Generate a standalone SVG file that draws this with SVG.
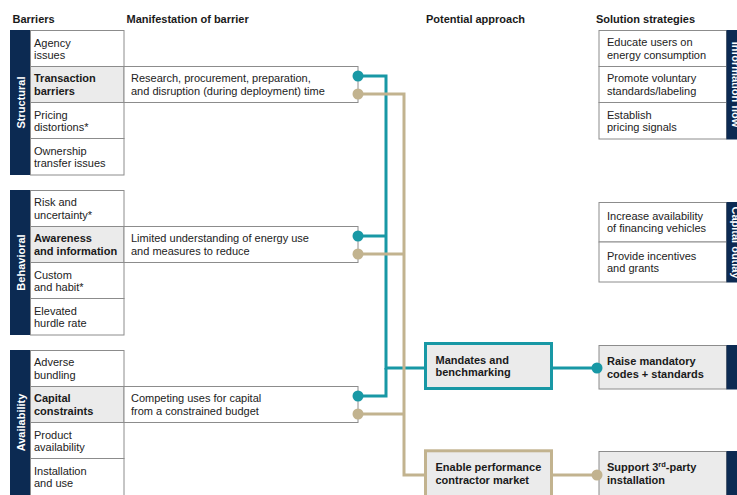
<svg xmlns="http://www.w3.org/2000/svg" width="737" height="495" viewBox="0 0 737 495">
<style>
text{font-family:"Liberation Sans",Arial,sans-serif;font-size:11px;fill:#222}
.h{font-weight:bold;fill:#1a1a1a}
.b{font-weight:bold;fill:#1a1a1a}
.band{fill:#0c2a52}
.bl{font-weight:bold;fill:#fff}
.cell{fill:#fff;stroke:#8c8c8c;stroke-width:1}
.cellg{fill:#ebebeb;stroke:#8c8c8c;stroke-width:1}
.teal{stroke:#1898a5;fill:none;stroke-width:3}
.tan{stroke:#c2b38f;fill:none;stroke-width:3}
.dt{fill:#1898a5}
.dn{fill:#c2b38f}
</style>
<rect width="737" height="495" fill="#fff"/>
<g id="headers">
<text class="h" x="12.5" y="23">Barriers</text>
<text class="h" x="126.5" y="23">Manifestation of barrier</text>
<text class="h" x="426" y="23">Potential approach</text>
<text class="h" x="596" y="23">Solution strategies</text>
</g>
<g id="structural">
<rect class="band" x="10" y="30" width="20" height="145"/>
<text class="bl" transform="translate(20.5,102.5) rotate(-90)" text-anchor="middle" dominant-baseline="central">Structural</text>
<rect class="cell" x="30.5" y="30.5" width="93.5" height="36"/>
<text x="34" y="46.5">Agency</text><text x="34" y="59">issues</text>
<rect class="cellg" x="30.5" y="66.5" width="93.5" height="36"/>
<text class="b" x="34" y="82">Transaction</text><text class="b" x="34" y="94.5">barriers</text>
<rect class="cell" x="30.5" y="102.5" width="93.5" height="36"/>
<text x="34" y="118.5">Pricing</text><text x="34" y="131">distortions*</text>
<rect class="cell" x="30.5" y="138.5" width="93.5" height="36.5"/>
<text x="34" y="154.5">Ownership</text><text x="34" y="167">transfer issues</text>
</g>
<g id="behavioral">
<rect class="band" x="10" y="190" width="20" height="145"/>
<text class="bl" transform="translate(20.5,262.5) rotate(-90)" text-anchor="middle" dominant-baseline="central">Behavioral</text>
<rect class="cell" x="30.5" y="190.5" width="93.5" height="36"/>
<text x="34" y="206">Risk and</text><text x="34" y="218.5">uncertainty*</text>
<rect class="cellg" x="30.5" y="226.5" width="93.5" height="36"/>
<text class="b" x="34" y="242">Awareness</text><text class="b" x="34" y="254.5">and information</text>
<rect class="cell" x="30.5" y="262.5" width="93.5" height="36"/>
<text x="34" y="278.5">Custom</text><text x="34" y="291">and habit*</text>
<rect class="cell" x="30.5" y="298.5" width="93.5" height="36.5"/>
<text x="34" y="314.5">Elevated</text><text x="34" y="327">hurdle rate</text>
</g>
<g id="availability">
<rect class="band" x="10" y="350" width="20" height="146"/>
<text class="bl" transform="translate(20.5,422.5) rotate(-90)" text-anchor="middle" dominant-baseline="central">Availability</text>
<rect class="cell" x="30.5" y="350.5" width="93.5" height="36"/>
<text x="34" y="366">Adverse</text><text x="34" y="378.5">bundling</text>
<rect class="cellg" x="30.5" y="386.5" width="93.5" height="36"/>
<text class="b" x="34" y="402">Capital</text><text class="b" x="34" y="414.5">constraints</text>
<rect class="cell" x="30.5" y="422.5" width="93.5" height="36"/>
<text x="34" y="438.5">Product</text><text x="34" y="451">availability</text>
<rect class="cell" x="30.5" y="458.5" width="93.5" height="40"/>
<text x="34" y="474.5">Installation</text><text x="34" y="487">and use</text>
</g>
<g id="manifest-transaction">
<rect class="cell" x="124" y="66.5" width="234" height="36"/>
<text x="131" y="82">Research, procurement, preparation,</text>
<text x="131" y="94.5">and disruption (during deployment) time</text>
</g>
<g id="manifest-awareness">
<rect class="cell" x="124" y="226.5" width="234" height="36"/>
<text x="131" y="242">Limited understanding of energy use</text>
<text x="131" y="254.5">and measures to reduce</text>
</g>
<g id="manifest-capital">
<rect class="cell" x="124" y="386.5" width="234" height="36"/>
<text x="131" y="402">Competing uses for capital</text>
<text x="131" y="414.5">from a constrained budget</text>
</g>
<g id="strategies-info">
<rect class="cell" x="599" y="30.5" width="127.5" height="36"/>
<text x="607" y="46">Educate users on</text><text x="607" y="58.5">energy consumption</text>
<rect class="cell" x="599" y="66.5" width="127.5" height="36"/>
<text x="607" y="82">Promote voluntary</text><text x="607" y="94.5">standards/labeling</text>
<rect class="cell" x="599" y="102.5" width="127.5" height="36.5"/>
<text x="607" y="118.5">Establish</text><text x="607" y="131">pricing signals</text>
<rect class="band" x="726.5" y="30" width="12" height="109.5"/>
<text class="bl" transform="translate(735.5,84.5) rotate(90)" text-anchor="middle" dominant-baseline="central">Information flow</text>
</g>
<g id="strategies-capital">
<rect class="cell" x="599" y="202.5" width="127.5" height="39.5"/>
<text x="607" y="219.5">Increase availability</text><text x="607" y="232">of financing vehicles</text>
<rect class="cell" x="599" y="242" width="127.5" height="40"/>
<text x="607" y="259.5">Provide incentives</text><text x="607" y="272">and grants</text>
<rect class="band" x="726.5" y="202" width="12" height="80.5"/>
<text class="bl" transform="translate(735.5,242.5) rotate(90)" text-anchor="middle" dominant-baseline="central">Capital outlay</text>
</g>
<g id="connectors">
<path class="teal" d="M358,76 H386 V368 H425"/>
<path class="teal" d="M358,236 H386"/>
<path class="teal" d="M358,396 H386 V368"/>
<path class="tan" d="M358,94 H404 V475 H425"/>
<path class="tan" d="M358,254 H404"/>
<path class="tan" d="M358,414 H404"/>
<path class="teal" d="M553,368 H597"/>
<path class="tan" d="M553,475 H597"/>
<circle class="dt" cx="358" cy="76" r="5.5"/>
<circle class="dn" cx="358" cy="94" r="5.5"/>
<circle class="dt" cx="358" cy="236" r="5.5"/>
<circle class="dn" cx="358" cy="254" r="5.5"/>
<circle class="dt" cx="358" cy="396" r="5.5"/>
<circle class="dn" cx="358" cy="414" r="5.5"/>
</g>
<g id="mandates">
<rect x="425.5" y="343.5" width="126" height="45" fill="#ebebeb" stroke="#1898a5" stroke-width="3"/>
<text class="b" x="435.5" y="363.5">Mandates and</text>
<text class="b" x="435.5" y="376">benchmarking</text>
</g>
<g id="enable">
<rect x="425.5" y="450.8" width="126" height="60" fill="#ebebeb" stroke="#c2b38f" stroke-width="3"/>
<text class="b" x="435.5" y="471">Enable performance</text>
<text class="b" x="435.5" y="483.5">contractor market</text>
</g>
<g id="raise">
<rect class="cellg" x="599" y="345.5" width="127.5" height="43.5"/>
<rect class="band" x="726.5" y="345" width="12" height="44.5"/>
<text class="b" x="607" y="365">Raise mandatory</text>
<text class="b" x="607" y="377.5">codes + standards</text>
</g>
<g id="support">
<rect class="cellg" x="599" y="451.5" width="127.5" height="50"/>
<rect class="band" x="726.5" y="451" width="12" height="50"/>
<text class="b" x="607" y="471">Support 3<tspan font-size="7.5" dy="-4">rd</tspan><tspan dy="4">-party</tspan></text>
<text class="b" x="607" y="483.5">installation</text>
</g>
<g id="end-dots">
<circle class="dt" cx="597" cy="368" r="5.5"/>
<circle class="dn" cx="597" cy="475" r="5.5"/>
</g>
</svg>
